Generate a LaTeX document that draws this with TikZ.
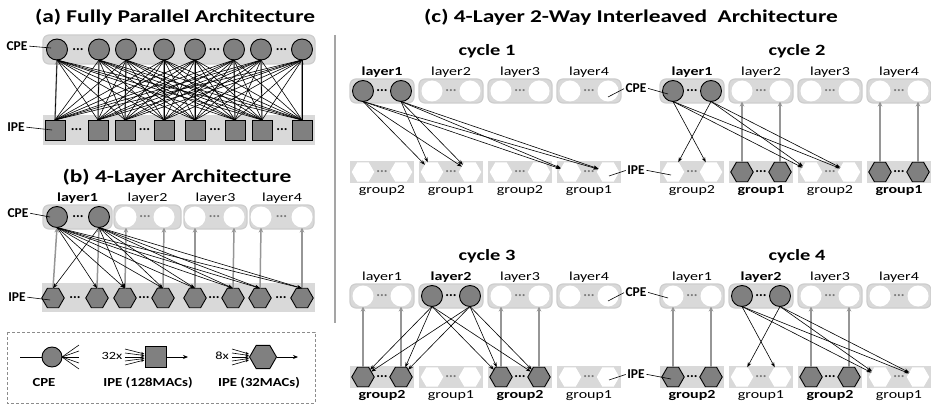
\documentclass[tikz,border=0pt]{standalone}
\usepackage{fontspec}
\setmainfont{Carlito}[FakeStretch=1.3]
\newfontfamily\plainfont{Carlito}
\newfontfamily\legfont{Carlito}[FakeStretch=1.2]
\usetikzlibrary{shapes.geometric,arrows.meta}
\definecolor{boxgray}{RGB}{217,217,217}
\definecolor{boxedge}{RGB}{205,205,205}
\definecolor{pegray}{RGB}{128,128,128}
\definecolor{arrgray}{RGB}{150,150,150}
\definecolor{dotgray}{RGB}{120,120,120}
\definecolor{sepgray}{RGB}{165,165,165}
\definecolor{leggray}{RGB}{140,140,140}

\newcommand\mycycle[7]{%
\begin{scope}[shift={(#2,#3)}]
\node[cyctitle] (#1-t) at (487,51) {#4};
\foreach \i in {0,1,2,3}{%
  \pgfmathsetmacro\bx{350+69*\i}%
  \pgfmathtruncatemacro\gp{2-mod(\i,2)}%
  \pgfmathtruncatemacro\li{\i+1}%
  \ifnum\i=#5\relax
    \tikzset{curc/.style={fcirc},curl/.style={blbl},curd/.style={}}%
  \else
    \tikzset{curc/.style={wcirc},curl/.style={lbl},curd/.style={text=dotgray}}%
  \fi
  \ifnum\gp=#6\relax
    \tikzset{curh/.style={fhex},curg/.style={blbl},cure/.style={}}%
  \else
    \tikzset{curh/.style={whex},curg/.style={lbl},cure/.style={text=dotgray}}%
  \fi
  \path[cpebox] (\bx,79) rectangle ++(64,24);
  \path[ipebox] (\bx,161) rectangle ++(64,22);
  \node[curl] (#1-l\i) at (\bx+32,72) {layer\li};
  \node[curg] (#1-g\i) at (\bx+32,191) {group\gp};
  \node[curc] (#1-c\i-0) at (\bx+13,91) {};
  \node[curc] (#1-c\i-1) at (\bx+51,91) {};
  \node[curh] (#1-h\i-0) at (\bx+13,172) {};
  \node[curh] (#1-h\i-1) at (\bx+51,172) {};
  \node[dots,curd] (#1-d\i) at (\bx+32,91) {...};
  \node[dots,cure] (#1-e\i) at (\bx+32,172) {...};
}
\foreach \j in {0,1,2,3}{%
  \pgfmathtruncatemacro\gp{2-mod(\j,2)}%
  \ifnum\gp=#6\relax
    \foreach \k in {0,1}{\draw[garr] (#1-h\j-\k.north) -- (#1-c\j-\k.south);}%
  \fi
  \ifnum\gp=#7\relax
    \foreach \k in {0,1}{%
      \foreach \m in {0,1}{%
        \pgfmathtruncatemacro\skp{and(\j==#5,\k==\m)}%
        \ifnum\skp=0\relax
          \draw[blk] (#1-c#5-\k.south) -- (#1-h\j-\m);
        \fi
      }}%
  \fi
}
\end{scope}}

\begin{document}
\begin{tikzpicture}[x=1pt,y=-1pt,
  fcirc/.style={circle,minimum size=21pt,inner sep=0pt,outer sep=0pt,fill=pegray,draw=black,line width=0.9pt},
  wcirc/.style={circle,minimum size=21pt,inner sep=0pt,outer sep=0pt,fill=white},
  fhex/.style={regular polygon,regular polygon sides=6,minimum size=22.5pt,inner sep=0pt,outer sep=0pt,fill=pegray,draw=black,line width=0.9pt},
  whex/.style={regular polygon,regular polygon sides=6,minimum size=22.5pt,inner sep=0pt,outer sep=0pt,fill=white},
  fsq/.style={rectangle,minimum size=20pt,inner sep=0pt,outer sep=0pt,fill=pegray,draw=black,line width=0.9pt},
  cpebox/.style={rounded corners=6pt,fill=boxgray,draw=boxedge,line width=1.2pt},
  ipebox/.style={fill=boxgray},
  ttl/.style={font=\fontsize{18}{21}\selectfont\bfseries,inner sep=0pt},
  cyctitle/.style={font=\fontsize{15.7}{18}\selectfont\bfseries,inner sep=0pt},
  lbl/.style={font=\fontsize{12.3}{14}\selectfont,inner sep=0pt},
  blbl/.style={font=\fontsize{12.3}{14}\selectfont\bfseries,inner sep=0pt},
  xlbl/.style={font=\fontsize{11}{13}\selectfont,inner sep=0pt},
  pelbl/.style={font=\plainfont\fontsize{13.5}{15}\selectfont\bfseries,inner sep=0pt},
  leglbl/.style={font=\legfont\fontsize{12.3}{14}\selectfont\bfseries,inner sep=0pt},
  dots/.style={font=\plainfont\fontsize{14}{15}\selectfont\bfseries,inner sep=0pt},
  blk/.style={line width=0.6pt,-{Stealth[length=5pt,width=3.6pt]}},
  bline/.style={line width=0.6pt},
  garr/.style={arrgray,line width=1.5pt,-{Stealth[length=5pt,width=4.5pt]}},
  leader/.style={line width=0.6pt,shorten <=1.5pt},
]
\useasboundingbox (0,0) rectangle (931,406);

% ---------- (a) ----------
\node[ttl] (ta) at (175,17) {(a) Fully Parallel Architecture};
\path[cpebox] (43,35) rectangle (315,64);
\path[ipebox] (43,115) rectangle (315,145);
\foreach \x [count=\n] in {57,99,126,164,195,234,261,302} \node[fcirc] (a-c\n) at (\x,49.5) {};
\foreach \x [count=\n] in {55,98,125,164,195,235,262,302} \node[fsq] (a-s\n) at (\x,130) {};
\foreach \x [count=\n] in {78,145,214.5,281.5} \node[dots] (a-d\n) at (\x,49.5) {...};
\foreach \x [count=\n] in {76.5,144.5,215,282} \node[dots] (a-e\n) at (\x,130) {...};
\foreach \n in {1,...,8} \draw[garr] (a-s\n.north) -- (a-c\n.south);
\foreach \n in {1,...,8}{\foreach \m in {1,...,8}{\draw[bline] (a-c\n.south) -- (a-s\m.north);}}
\node[pelbl] (a-cpe) at (17,46) {CPE};
\coordinate (a-cpe-e) at (51,48);
\draw[leader] (a-cpe.east) -- (a-cpe-e);
\node[pelbl] (a-ipe) at (16,127) {IPE};
\coordinate (a-ipe-e) at (52,130);
\draw[leader] (a-ipe.east) -- (a-ipe-e);

% ---------- (b) ----------
\node[ttl] (tb) at (177,177) {(b) 4-Layer Architecture};
\path[cpebox] (43,205) rectangle (112,229);
\path[cpebox] (114,205) rectangle (181,229);
\path[cpebox] (184,205) rectangle (247,229);
\path[cpebox] (250,205) rectangle (314,229);
\node[blbl] (b-l1) at (77.5,198) {layer1};
\node[lbl] (b-l2) at (147.5,198) {layer2};
\node[lbl] (b-l3) at (215.5,198) {layer3};
\node[lbl] (b-l4) at (282,198) {layer4};
\node[fcirc] (b-c1) at (57,217) {};
\node[fcirc] (b-c2) at (99,217) {};
\foreach \x [count=\n from 3] in {126,164,195,234,261,302} \node[wcirc] (b-c\n) at (\x,217) {};
\node[dots] (b-d1) at (78,217) {...};
\foreach \x [count=\n from 2] in {145,214.5,281.5} \node[dots,text=dotgray] (b-d\n) at (\x,217) {...};
\path[ipebox] (42,283) rectangle (315,312);
\foreach \x [count=\n] in {53,97,125,163,195,233,260,302} \node[fhex] (b-h\n) at (\x,298) {};
\foreach \x [count=\n] in {75,144,214,281} \node[dots] (b-e\n) at (\x,298) {...};
\foreach \n in {1,...,8} \draw[garr] (b-h\n.north) -- (b-c\n.south);
\foreach \k in {1,2}{\foreach \m in {1,...,8}{\ifnum\k=\m\else\draw[blk] (b-c\k.south) -- (b-h\m.north);\fi}}
\node[pelbl] (b-cpe) at (18,213) {CPE};
\coordinate (b-cpe-e) at (50,217);
\draw[leader] (b-cpe.east) -- (b-cpe-e);
\node[pelbl] (b-ipe) at (17,297) {IPE};
\coordinate (b-ipe-e) at (50,300);
\draw[leader] (b-ipe.east) -- (b-ipe-e);

% ---------- legend ----------
\draw[leggray,line width=1pt,dash pattern=on 3pt off 2pt] (7,332) rectangle (315,403);
\node[fcirc,minimum size=20pt] (lg-c) at (52,357) {};
\coordinate (lg-w) at (20,357);
\draw[line width=1pt] (lg-w) -- (lg-c.west);
\foreach \yy [count=\n] in {345,351,357,363,369}{\coordinate (lg-f\n) at (79,\yy); \draw[bline] (lg-c.east) -- (lg-f\n);}
\node[xlbl] (lg-32) at (112,356) {32x};
\node[fsq,minimum size=21pt] (lg-s) at (156,357) {};
\foreach \ya/\yb [count=\n] in {349/354,353/355.5,357/357,361/358.5,365/360}{%
  \coordinate (lg-a\n) at (125,\ya); \coordinate (lg-b\n) at (144.5,\yb);
  \draw[blk,-{Stealth[length=3.5pt,width=2.5pt]}] (lg-a\n) -- (lg-b\n);}
\coordinate (lg-o1) at (188,357);
\draw[line width=1pt,-{Stealth[length=5pt,width=4pt]}] (lg-s.east) -- (lg-o1);
\node[xlbl] (lg-8) at (222,356) {8x};
\node[fhex,minimum size=27pt] (lg-h) at (263,357) {};
\foreach \ya/\yb [count=\n] in {349/354,353/355.5,357/357,361/358.5,365/360}{%
  \coordinate (lg-p\n) at (232,\ya); \coordinate (lg-q\n) at (249,\yb);
  \draw[blk,-{Stealth[length=3.5pt,width=2.5pt]}] (lg-p\n) -- (lg-q\n);}
\coordinate (lg-o2) at (298,357);
\draw[line width=1pt,-{Stealth[length=5pt,width=4pt]}] (lg-h.east) -- (lg-o2);
\node[leglbl] (lg-t1) at (44,383) {CPE};
\node[leglbl] (lg-t2) at (148,383) {IPE (128MACs)};
\node[leglbl] (lg-t3) at (259,383) {IPE (32MACs)};

% ---------- separator ----------
\draw[sepgray,line width=1.5pt] (335,35) -- (335,323);

% ---------- (c) ----------
\node[ttl] (tc) at (631,17) {(c) 4-Layer 2-Way Interleaved\ \ Architecture};
\mycycle{A}{0}{0}{cycle 1}{0}{0}{1}
\mycycle{B}{310}{0}{cycle 2}{0}{1}{2}
\mycycle{C}{0}{205}{cycle 3}{1}{2}{2}
\mycycle{D}{310}{205}{cycle 4}{1}{2}{1}

\node[pelbl] (c-cpe1) at (636,88) {CPE};
\coordinate (c-cpe1-l) at (608,97);
\coordinate (c-cpe1-r) at (668,94);
\draw[leader] (c-cpe1.west) -- (c-cpe1-l);
\draw[leader] (c-cpe1.east) -- (c-cpe1-r);
\node[pelbl] (c-ipe1) at (636,170) {IPE};
\coordinate (c-ipe1-l) at (609,176);
\coordinate (c-ipe1-r) at (671,175);
\draw[leader] (c-ipe1.west) -- (c-ipe1-l);
\draw[leader] (c-ipe1.east) -- (c-ipe1-r);
\node[pelbl] (c-cpe2) at (636,292) {CPE};
\coordinate (c-cpe2-l) at (608,301);
\coordinate (c-cpe2-r) at (668,298);
\draw[leader] (c-cpe2.west) -- (c-cpe2-l);
\draw[leader] (c-cpe2.east) -- (c-cpe2-r);
\node[pelbl] (c-ipe2) at (636,374) {IPE};
\coordinate (c-ipe2-l) at (609,380);
\coordinate (c-ipe2-r) at (671,379);
\draw[leader] (c-ipe2.west) -- (c-ipe2-l);
\draw[leader] (c-ipe2.east) -- (c-ipe2-r);
\end{tikzpicture}
\end{document}
